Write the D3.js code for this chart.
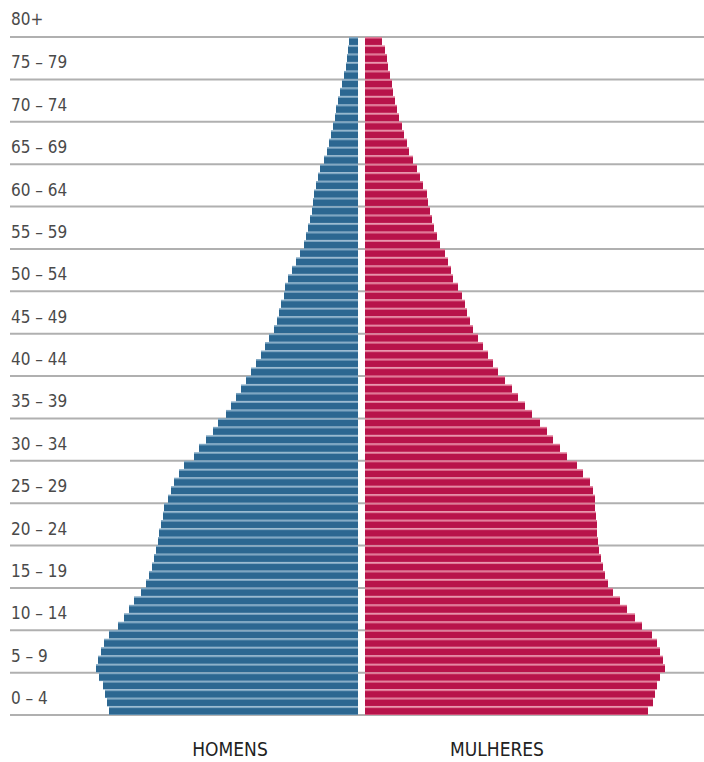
<!DOCTYPE html>
<html>
<head>
<meta charset="utf-8">
<script src="https://cdn.jsdelivr.net/npm/d3@7"></script>
<style>
  body { margin: 0; background: #fff; }
  .agelabel { font-family: "Liberation Sans Narrow", "DejaVu Sans Condensed", sans-serif; font-size: 17px; fill: #4a4a4a; }
  .sexlabel { font-family: "Liberation Sans Narrow", "DejaVu Sans Condensed", sans-serif; font-size: 19px; fill: #222; }
</style>
</head>
<body>
<div class="vizcontainer"></div>
<script>
const width = 704, height = 762;

// single-year ages 0..79
const ages = d3.range(0, 80);

// age group labels (bottom to top)
const groups = ["0\u20134", "5\u20139", "10\u201314", "15\u201319", "20\u201324", "25\u201329",
  "30\u201334", "35\u201339", "40\u201344", "45\u201349", "50\u201354", "55\u201359",
  "60\u201364", "65\u201369", "70\u201374", "75\u201379"];
const topLabel = "80+";

// population per single year of age, age 0 first (relative units)
const homens = [
  249, 251, 253, 255, 259,
  262, 260, 257, 254, 249,
  240, 234, 229, 224, 217,
  212, 209, 206, 204, 202,
  200, 199, 197, 195, 194,
  190, 187, 184, 179, 174,
  164, 159, 152, 145, 140,
  132, 127, 122, 117, 112,
  107, 102, 97, 93, 89,
  84, 81, 79, 77, 74,
  73, 70, 66, 62, 58,
  54, 52, 50, 48, 46,
  45, 44, 42, 40, 38,
  34, 31, 29, 27, 25,
  23, 22, 20, 18, 16,
  14, 12, 11, 10, 9
];
const mulheres = [
  283, 288, 290, 292, 295,
  300, 298, 295, 292, 287,
  277, 270, 262, 255, 248,
  243, 240, 238, 236, 234,
  233, 232, 232, 231, 230,
  230, 228, 225, 218, 212,
  202, 195, 188, 182, 175,
  167, 160, 153, 147, 140,
  133, 128, 123, 118, 113,
  108, 105, 102, 100, 97,
  93, 88, 86, 83, 80,
  75, 72, 69, 67, 65,
  63, 62, 58, 55, 52,
  48, 44, 42, 39, 37,
  34, 32, 30, 28, 27,
  25, 23, 22, 20, 17
];

const plotTop = 37, plotBottom = 715;
const centerL = 358, centerR = 365;

const svg = d3.select(".vizcontainer")
  .append("svg")
  .attr("width", width)
  .attr("height", height);

const y = d3.scaleBand()
  .domain(ages.slice().reverse())
  .range([plotTop, plotBottom])
  .paddingInner(0);

const yGroup = d3.scaleBand()
  .domain(groups.slice().reverse())
  .range([plotTop, plotBottom]);

const xMen = d3.scaleLinear().domain([0, 300]).range([centerL, centerL - 300]);
const xWomen = d3.scaleLinear().domain([0, 300]).range([centerR, centerR + 300]);

// gridlines at group boundaries
const lines = groups.map(g => yGroup(g)).concat([plotBottom]);
svg.append("g")
  .selectAll("line")
  .data(lines)
  .enter()
  .append("line")
  .attr("x1", 10)
  .attr("x2", width)
  .attr("y1", d => d)
  .attr("y2", d => d)
  .style("stroke", "#b0b0b0")
  .style("stroke-width", 2);

// labels sit low in each group, just above the group's bottom line
svg.append("g")
  .selectAll("text")
  .data(groups)
  .enter()
  .append("text")
  .attr("class", "agelabel")
  .attr("x", 11)
  .attr("y", d => yGroup(d) + yGroup.bandwidth() - 11)
  .text(d => d.replace("\u2013", " \u2013 "));

svg.append("text")
  .attr("class", "agelabel")
  .attr("x", 11)
  .attr("y", plotTop - 12)
  .text(topLabel);

const step = y.step();

function drawSide(values, x, left, dark, light) {
  const g = svg.append("g");
  g.selectAll("rect.bg")
    .data(ages)
    .enter()
    .append("rect")
    .attr("class", "bg")
    .attr("x", d => left ? x(values[d]) : x(0))
    .attr("y", d => y(d))
    .attr("width", d => Math.abs(x(values[d]) - x(0)))
    .attr("height", step)
    .style("fill", light);
  g.selectAll("rect.bar")
    .data(ages)
    .enter()
    .append("rect")
    .attr("class", "bar")
    .attr("x", d => left ? x(values[d]) : x(0))
    .attr("y", d => y(d) + 1.6)
    .attr("width", d => Math.abs(x(values[d]) - x(0)))
    .attr("height", step - 2.2)
    .style("fill", dark);
}

drawSide(homens, xMen, true, "#2c6791", "#7ea6c2");
drawSide(mulheres, xWomen, false, "#b8134a", "#e07896");

svg.append("text")
  .attr("class", "sexlabel")
  .attr("text-anchor", "middle")
  .attr("x", 230)
  .attr("y", 756)
  .text("HOMENS");

svg.append("text")
  .attr("class", "sexlabel")
  .attr("text-anchor", "middle")
  .attr("x", 497)
  .attr("y", 756)
  .text("MULHERES");
</script>
</body>
</html>
